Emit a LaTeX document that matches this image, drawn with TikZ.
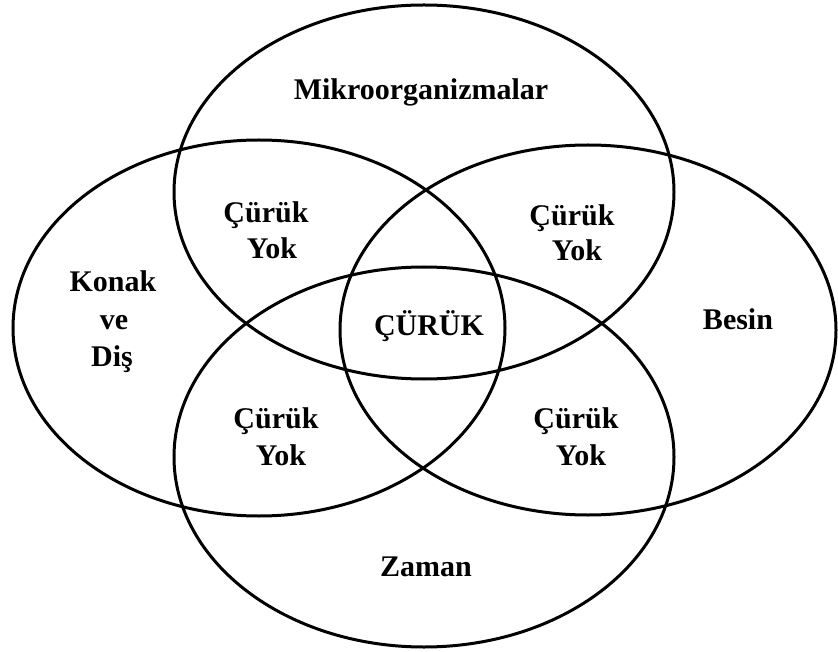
\documentclass[tikz,border=0pt]{standalone}
\usepackage{fontspec}
\setmainfont{Liberation Serif}
\begin{document}
\begin{tikzpicture}[x=1pt,y=-1pt,
  ring/.style={draw=black,line width=3pt},
  lbl/.style={font=\fontsize{30}{37}\selectfont\bfseries,anchor=base,inner sep=0pt}]
\useasboundingbox (0,0) rectangle (838,652);
\fill[white] (0,0) rectangle (838,652);
% ellipses
\draw[ring] (424,192) ellipse [x radius=250, y radius=187];
\draw[ring] (259,328) ellipse [x radius=246, y radius=188];
\draw[ring] (588,330) ellipse [x radius=248, y radius=185];
\draw[ring] (424,457) ellipse [x radius=250, y radius=190];
% labels
\node[lbl] (mik) at (421,100) {Mikroorganizmalar};
\node[lbl] (kon1) at (113,292) {Konak};
\node[lbl] (kon2) at (114,330) {ve};
\node[lbl] (kon3) at (112,366) {Diş};
\node[lbl] (bes) at (738,330) {Besin};
\node[lbl] (zam) at (426,576) {Zaman};
\node[lbl] (cur) at (429,335) {ÇÜRÜK};
\node[lbl] (tl1) at (266,223) {Çürük};
\node[lbl] (tl2) at (272,259) {Yok};
\node[lbl] (tr1) at (572,226) {Çürük};
\node[lbl] (tr2) at (577,261) {Yok};
\node[lbl] (bl1) at (276,428) {Çürük};
\node[lbl] (bl2) at (281,465) {Yok};
\node[lbl] (br1) at (576,428) {Çürük};
\node[lbl] (br2) at (581,465) {Yok};
\end{tikzpicture}
\end{document}
